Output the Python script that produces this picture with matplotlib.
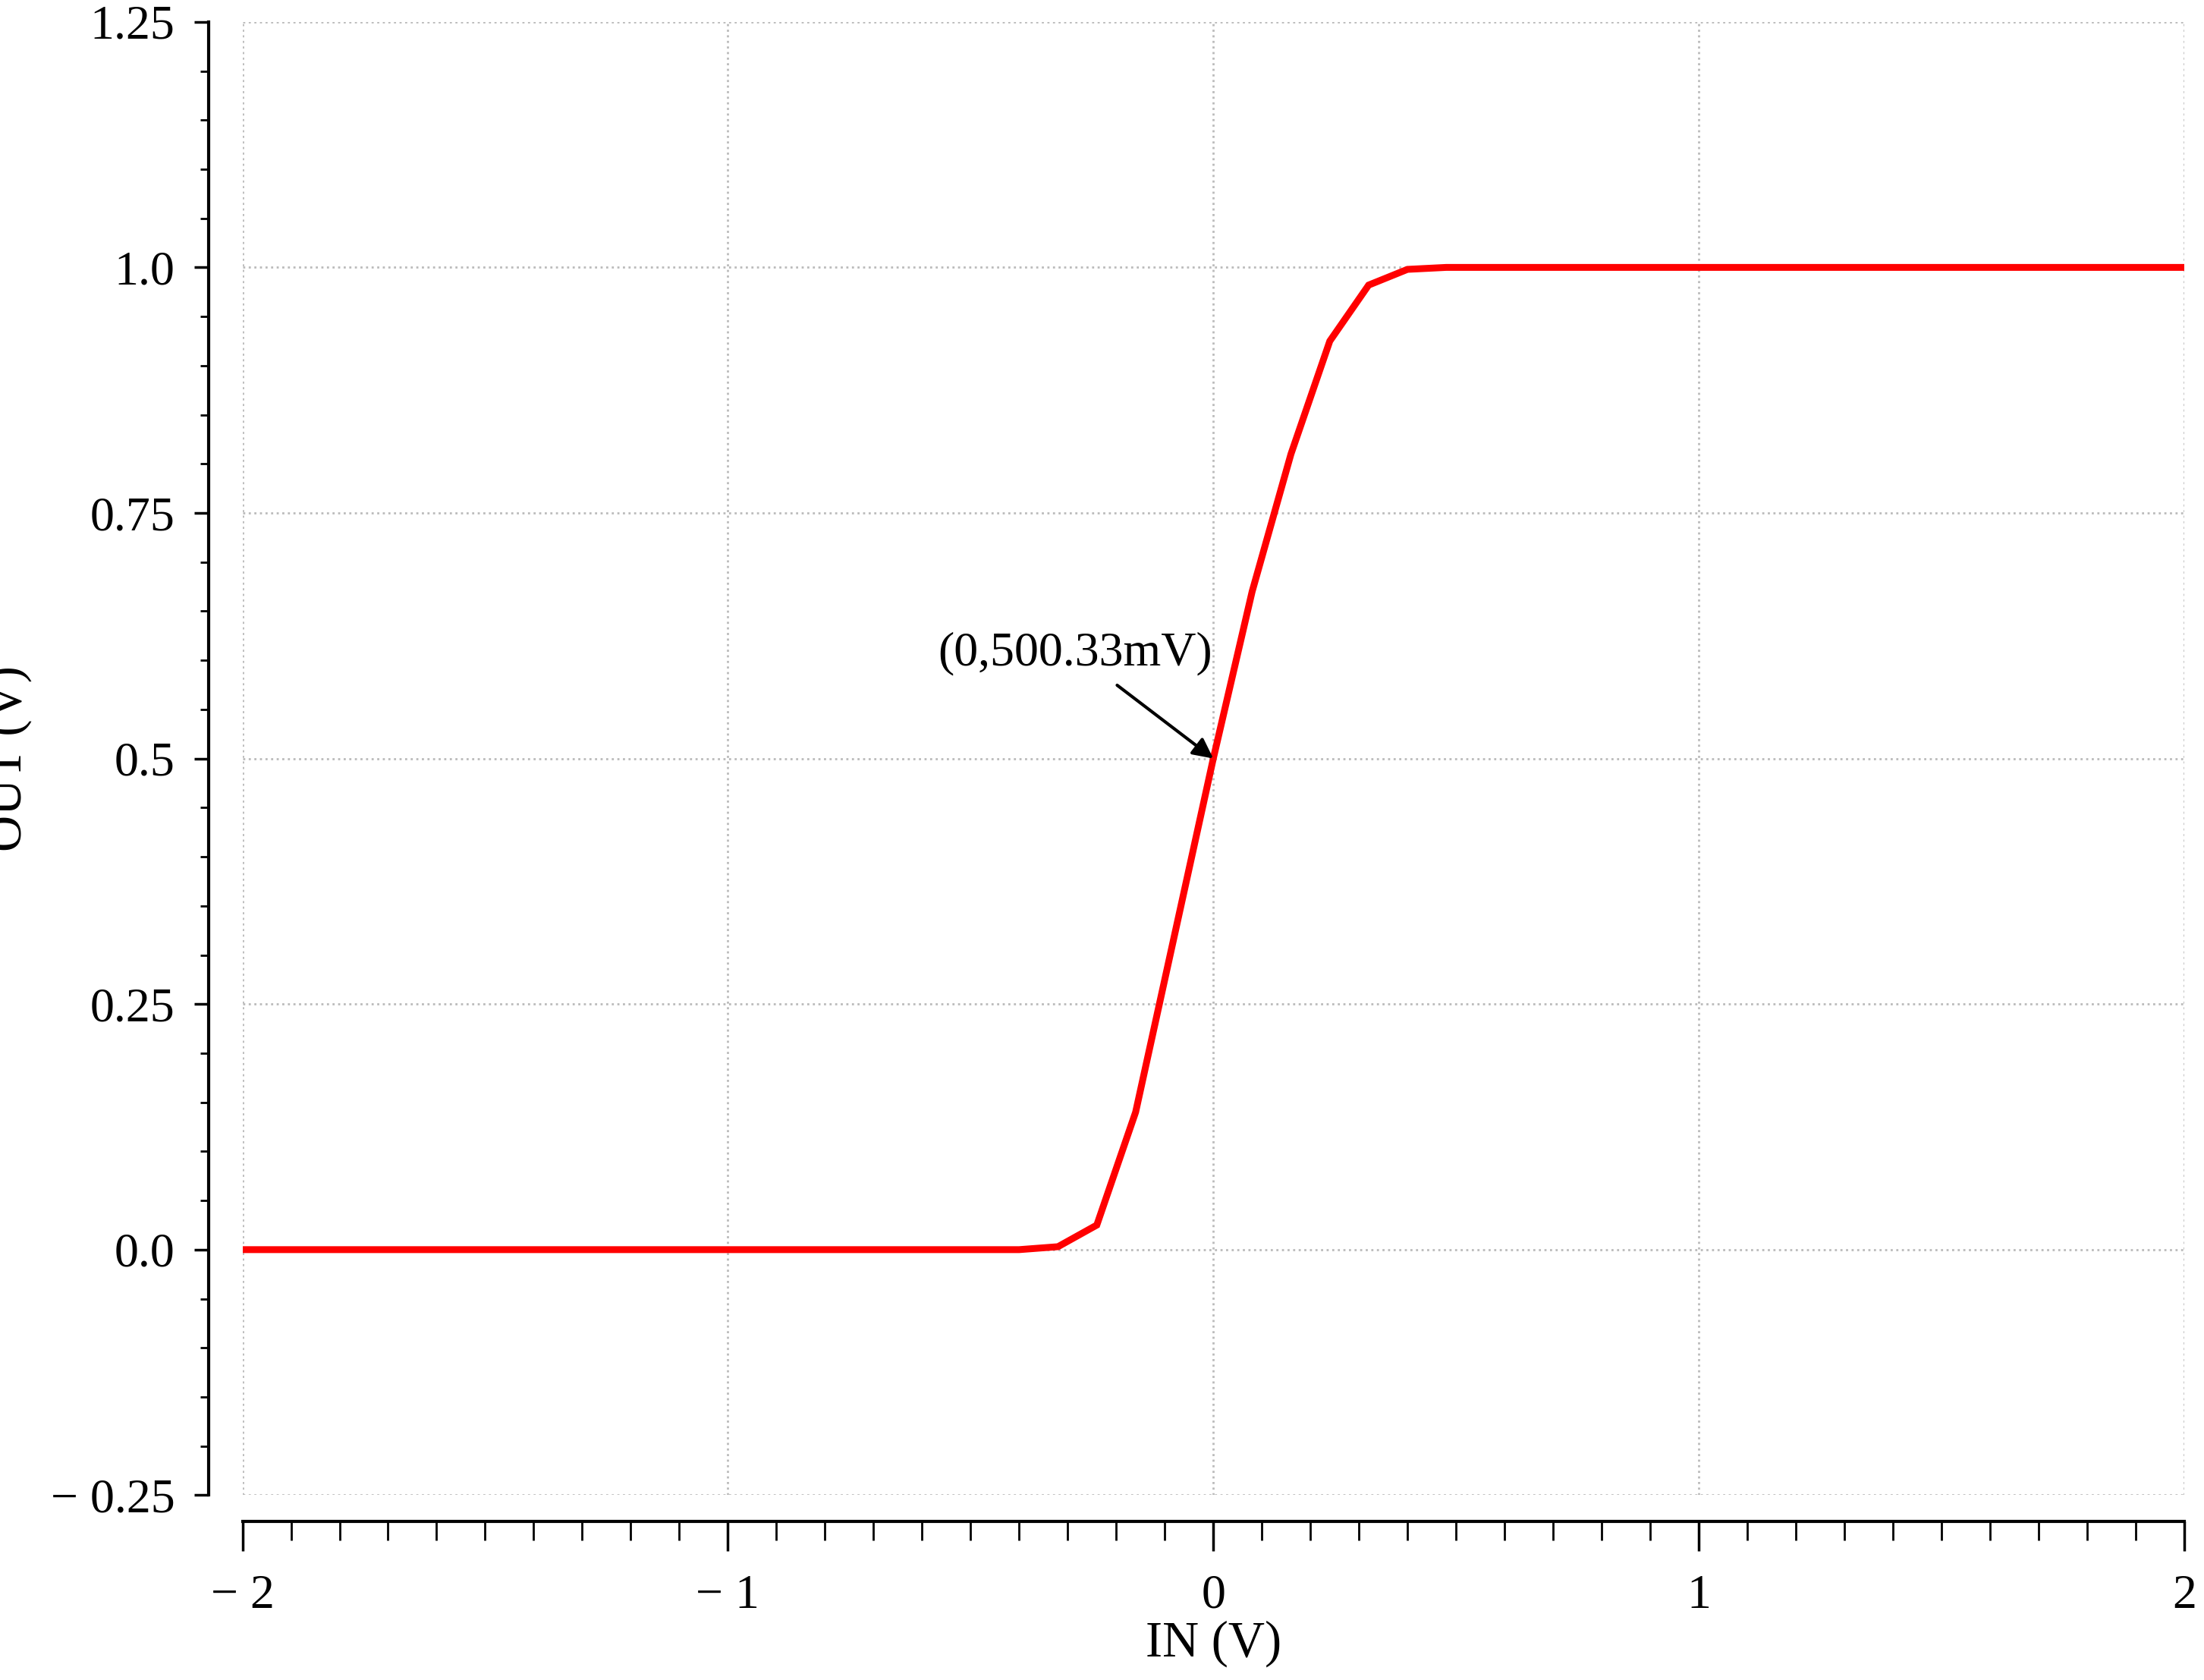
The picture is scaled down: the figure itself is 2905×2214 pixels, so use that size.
import numpy as np
import matplotlib.pyplot as plt
from matplotlib.ticker import MultipleLocator, FixedFormatter, FixedLocator

v_in = [-2.0, -0.4, -0.32, -0.24, -0.16, -0.08, 0.0, 0.08, 0.16, 0.24, 0.32, 0.4, 0.48, 2.0]
v_out = [0.0, 0.0, 0.003, 0.025, 0.14, 0.32, 0.5, 0.67, 0.81, 0.925, 0.982, 0.998, 1.0, 1.0]
y_ticks = [-0.25, 0.0, 0.25, 0.5, 0.75, 1.0, 1.25]
y_labels = ['\u2212 0.25', '0.0', '0.25', '0.5', '0.75', '1.0', '1.25']
x_ticks = [-2, -1, 0, 1, 2]
x_labels = ['\u2212 2', '\u2212 1', '0', '1', '2']

plt.rcParams['font.family'] = ['Liberation Serif', 'DejaVu Serif']

fig = plt.figure(figsize=(29.05, 22.14), dpi=100)
ax = fig.add_axes([0.110, 0.110, 0.881, 0.877])

ax.plot(v_in, v_out, color='#ff0000', linewidth=6.5, solid_joinstyle='miter', zorder=3)
ax.annotate('(0,500.33mV)', xy=(0, 0.5), xytext=(-0.284, 0.607),
            ha='center', va='center', fontsize=46,
            arrowprops=dict(arrowstyle='-|>', color='black', lw=3, mutation_scale=40,
                            shrinkA=12, shrinkB=0))

ax.set_xlim(-2, 2)
ax.set_ylim(-0.25, 1.25)
ax.xaxis.set_major_locator(FixedLocator(x_ticks))
ax.xaxis.set_major_formatter(FixedFormatter(x_labels))
ax.xaxis.set_minor_locator(MultipleLocator(0.1))
ax.yaxis.set_major_locator(FixedLocator(y_ticks))
ax.yaxis.set_major_formatter(FixedFormatter(y_labels))
ax.yaxis.set_minor_locator(MultipleLocator(0.05))

ax.grid(True, which='major', color='#bbbbbb', linestyle=':', linewidth=2)

# Ejes separados, sin borde superior / derecho
ax.spines['top'].set_visible(False)
ax.spines['right'].set_visible(False)
ax.spines['left'].set_position(('outward', 32))
ax.spines['bottom'].set_position(('outward', 25))
ax.spines['left'].set_linewidth(3)
ax.spines['bottom'].set_linewidth(3)

ax.tick_params(axis='both', which='major', labelsize=46, width=2.5, direction='out')
ax.tick_params(axis='x', which='major', length=28, pad=22)
ax.tick_params(axis='x', which='minor', length=18, width=2)
ax.tick_params(axis='y', which='major', length=14, pad=18)
ax.tick_params(axis='y', which='minor', length=8, width=2)

ax.set_xlabel('IN (V)', fontsize=48, labelpad=2)
ax.set_ylabel('OUT (V)', fontsize=48, labelpad=18)

fig.savefig('out.png', dpi=100)
